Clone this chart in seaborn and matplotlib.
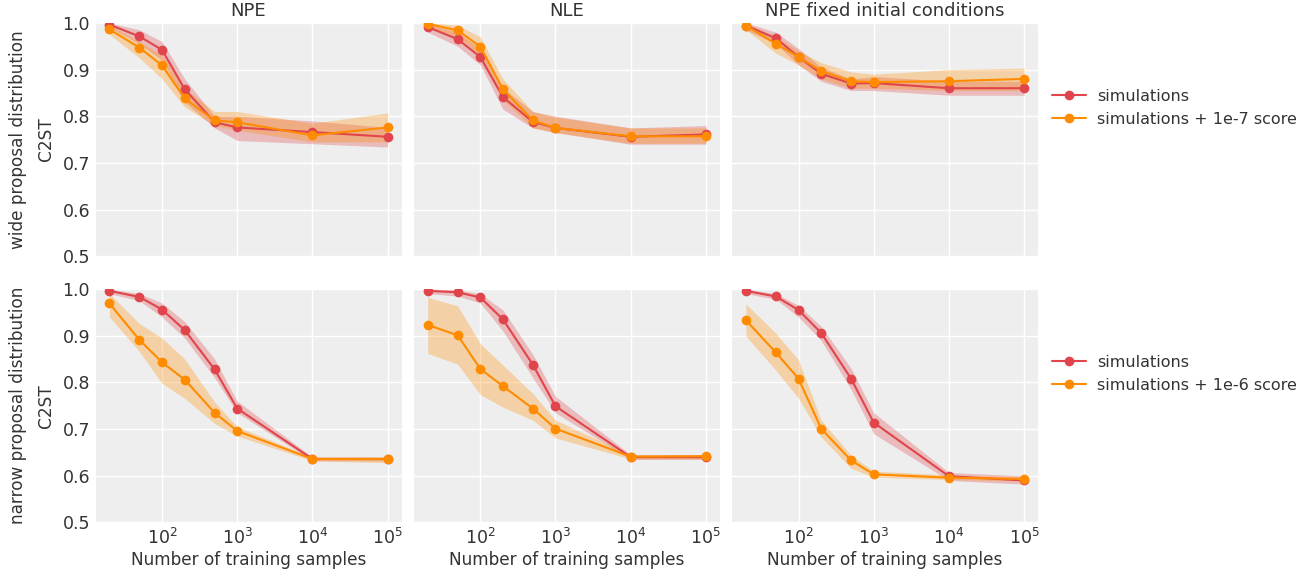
import numpy as np
import pandas as pd
import seaborn as sns
import matplotlib.pyplot as plt

# training set sizes
n_train = [20, 50, 100, 200, 500, 1000, 10000, 100000]

# --- wide proposal (top row) ---
wide_npe_sim = [0.996, 0.971, 0.942, 0.858, 0.787, 0.776, 0.766, 0.756]
wide_npe_sim_lo = [0.990, 0.955, 0.920, 0.830, 0.775, 0.748, 0.741, 0.734]
wide_npe_sim_hi = [1.000, 0.985, 0.960, 0.880, 0.800, 0.800, 0.790, 0.776]
wide_npe_score = [0.986, 0.947, 0.909, 0.838, 0.791, 0.787, 0.759, 0.776]
wide_npe_score_lo = [0.975, 0.925, 0.880, 0.820, 0.780, 0.770, 0.745, 0.745]
wide_npe_score_hi = [0.995, 0.960, 0.930, 0.860, 0.810, 0.810, 0.785, 0.807]

wide_nle_sim = [0.991, 0.965, 0.927, 0.841, 0.788, 0.775, 0.756, 0.761]
wide_nle_sim_lo = [0.980, 0.950, 0.910, 0.815, 0.775, 0.765, 0.740, 0.740]
wide_nle_sim_hi = [1.000, 0.980, 0.945, 0.860, 0.810, 0.800, 0.775, 0.780]
wide_nle_score = [0.998, 0.984, 0.949, 0.858, 0.791, 0.775, 0.757, 0.757]
wide_nle_score_lo = [0.990, 0.970, 0.930, 0.835, 0.775, 0.765, 0.742, 0.742]
wide_nle_score_hi = [1.000, 0.995, 0.970, 0.880, 0.810, 0.798, 0.775, 0.775]

wide_fix_sim = [0.994, 0.967, 0.927, 0.891, 0.870, 0.871, 0.860, 0.860]
wide_fix_sim_lo = [0.985, 0.955, 0.910, 0.875, 0.855, 0.855, 0.845, 0.845]
wide_fix_sim_hi = [1.000, 0.980, 0.945, 0.905, 0.880, 0.885, 0.875, 0.875]
wide_fix_score = [0.994, 0.955, 0.927, 0.897, 0.875, 0.873, 0.875, 0.880]
wide_fix_score_lo = [0.985, 0.935, 0.910, 0.880, 0.860, 0.860, 0.855, 0.855]
wide_fix_score_hi = [1.000, 0.970, 0.940, 0.915, 0.895, 0.890, 0.900, 0.903]

# --- narrow proposal (bottom row) ---
narrow_npe_sim = [0.996, 0.983, 0.956, 0.912, 0.828, 0.744, 0.636, 0.636]
narrow_npe_sim_lo = [0.990, 0.975, 0.940, 0.895, 0.810, 0.735, 0.632, 0.632]
narrow_npe_sim_hi = [1.000, 0.990, 0.970, 0.930, 0.850, 0.760, 0.640, 0.640]
narrow_npe_score = [0.969, 0.891, 0.843, 0.806, 0.735, 0.696, 0.636, 0.636]
narrow_npe_score_lo = [0.940, 0.866, 0.798, 0.766, 0.712, 0.685, 0.632, 0.628]
narrow_npe_score_hi = [0.990, 0.926, 0.895, 0.850, 0.758, 0.705, 0.640, 0.640]

narrow_nle_sim = [0.996, 0.993, 0.982, 0.935, 0.838, 0.749, 0.640, 0.640]
narrow_nle_sim_lo = [0.990, 0.985, 0.970, 0.910, 0.810, 0.735, 0.635, 0.635]
narrow_nle_sim_hi = [1.000, 0.998, 0.990, 0.955, 0.860, 0.770, 0.645, 0.645]
narrow_nle_score = [0.923, 0.901, 0.829, 0.792, 0.744, 0.701, 0.641, 0.642]
narrow_nle_score_lo = [0.862, 0.839, 0.774, 0.747, 0.719, 0.681, 0.636, 0.636]
narrow_nle_score_hi = [0.982, 0.964, 0.883, 0.837, 0.776, 0.719, 0.645, 0.645]

narrow_fix_sim = [0.996, 0.984, 0.955, 0.906, 0.808, 0.714, 0.599, 0.590]
narrow_fix_sim_lo = [0.990, 0.978, 0.940, 0.890, 0.785, 0.690, 0.590, 0.582]
narrow_fix_sim_hi = [1.000, 0.990, 0.965, 0.920, 0.830, 0.735, 0.607, 0.600]
narrow_fix_score = [0.933, 0.864, 0.808, 0.701, 0.633, 0.603, 0.596, 0.593]
narrow_fix_score_lo = [0.899, 0.826, 0.766, 0.683, 0.616, 0.597, 0.592, 0.588]
narrow_fix_score_hi = [0.968, 0.905, 0.848, 0.719, 0.644, 0.610, 0.602, 0.598]

methods = ["NPE", "NLE", "NPE fixed initial conditions"]
rows = ["wide proposal distribution", "narrow proposal distribution"]
score_labels = ["simulations + 1e-7 score", "simulations + 1e-6 score"]

panels = [
    [
        (wide_npe_sim, wide_npe_sim_lo, wide_npe_sim_hi, wide_npe_score, wide_npe_score_lo, wide_npe_score_hi),
        (wide_nle_sim, wide_nle_sim_lo, wide_nle_sim_hi, wide_nle_score, wide_nle_score_lo, wide_nle_score_hi),
        (wide_fix_sim, wide_fix_sim_lo, wide_fix_sim_hi, wide_fix_score, wide_fix_score_lo, wide_fix_score_hi),
    ],
    [
        (narrow_npe_sim, narrow_npe_sim_lo, narrow_npe_sim_hi, narrow_npe_score, narrow_npe_score_lo, narrow_npe_score_hi),
        (narrow_nle_sim, narrow_nle_sim_lo, narrow_nle_sim_hi, narrow_nle_score, narrow_nle_score_lo, narrow_nle_score_hi),
        (narrow_fix_sim, narrow_fix_sim_lo, narrow_fix_sim_hi, narrow_fix_score, narrow_fix_score_lo, narrow_fix_score_hi),
    ],
]

sns.set_theme(style="darkgrid", rc={
    "axes.facecolor": "#eeeeee",
    "grid.color": "white",
    "grid.linewidth": 1.0,
    "xtick.labelsize": 12.5,
    "ytick.labelsize": 12.5,
    "axes.labelsize": 12.2,
    "axes.titlesize": 13,
    "axes.labelcolor": "#333333",
    "xtick.color": "#333333",
    "ytick.color": "#333333",
    "text.color": "#333333",
})
plt.rcParams["font.family"] = ["DejaVu Sans"]

red = "#e0454b"
orange = "#ff8c00"

fig, axes = plt.subplots(2, 3, figsize=(13.09, 5.71), dpi=100, sharex=True, sharey=True)
fig.subplots_adjust(left=0.073, right=0.793, top=0.96, bottom=0.085, wspace=0.04, hspace=0.14)

for r in range(2):
    for c in range(3):
        ax = axes[r, c]
        sim, sim_lo, sim_hi, sc, sc_lo, sc_hi = panels[r][c]
        df = pd.DataFrame({
            "n": n_train * 2,
            "c2st": sim + sc,
            "kind": ["simulations"] * len(n_train) + [score_labels[r]] * len(n_train),
        })
        ax.fill_between(n_train, sim_lo, sim_hi, color=red, alpha=0.3, linewidth=0)
        ax.fill_between(n_train, sc_lo, sc_hi, color=orange, alpha=0.3, linewidth=0)
        sns.lineplot(data=df, x="n", y="c2st", hue="kind", palette=[red, orange],
                     marker="o", markersize=7, markeredgewidth=0, linewidth=1.5,
                     ax=ax, legend=(c == 2))
        ax.set_xscale("log")
        ax.set_ylim(0.5, 1.0)
        ax.set_yticks([0.5, 0.6, 0.7, 0.8, 0.9, 1.0])
        ax.set_xticks([100, 1000, 10000, 100000])
        ax.minorticks_off()
        ax.tick_params(length=0, pad=4)
        for s in ax.spines.values():
            s.set_visible(False)
        if r == 0:
            ax.set_title(methods[c], pad=5)
        if r == 1:
            ax.set_xlabel("Number of training samples", labelpad=2)
        else:
            ax.set_xlabel("")
        if c == 0:
            ax.set_ylabel("C2ST", labelpad=5)
        else:
            ax.set_ylabel("")
        if c == 2:
            ax.legend(loc="center left", bbox_to_anchor=(1.0, 0.637), frameon=False,
                      fontsize=11.5, handlelength=2.1, handletextpad=0.7, title=None)

axes[0, 0].set_xlim(10 ** 1.116, 10 ** 5.185)

for r in range(2):
    pos = axes[r, 0].get_position()
    fig.text(0.014, (pos.y0 + pos.y1) / 2, rows[r], rotation=90, va="center", ha="center",
             fontsize=12.2, color="#333333")

fig.savefig("out.png", dpi=100)
